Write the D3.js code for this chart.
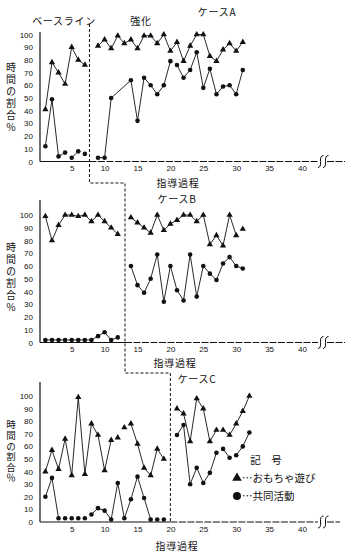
<!DOCTYPE html>
<html>
<head>
<meta charset="utf-8">
<title>ケースA・B・C</title>
<script src="https://d3js.org/d3.v7.min.js"></script>
<style>
  body { margin: 0; background: #fff; }
  text { fill: #111; }
</style>
</head>
<body>
<script>
// --- data ---
var xTicks = [5, 10, 15, 20, 25, 30, 35, 40];
var yTicks = [0, 10, 20, 30, 40, 50, 60, 70, 80, 90, 100];

// case A
var sessABase = [1, 2, 3, 4, 5, 6, 7];
var toyABase = [41, 78, 70, 61, 90, 80, 76];
var jointABase = [12, 49, 4, 7, 3, 8, 6];
var sessAToy = [9, 10, 11, 12, 13, 14, 15, 16, 17, 18, 19, 20, 21, 22, 23, 24, 25, 26, 27, 28, 29, 30, 31];
var toyATreat = [91, 96, 89, 99, 93, 96, 89, 99, 99, 93, 100, 87, 94, 79, 91, 100, 100, 83, 79, 88, 93, 87, 94];
var sessAJoint = [9, 10, 11, 14, 15, 16, 17, 18, 19, 20, 21, 22, 23, 24, 25, 26, 27, 28, 29, 30, 31];
var jointATreat = [3, 3, 50, 64, 32, 66, 60, 53, 60, 79, 76, 66, 72, 86, 58, 73, 53, 59, 60, 53, 72];

// case B
var sessBBase = [1, 2, 3, 4, 5, 6, 7, 8, 9, 10, 11, 12];
var toyBBase = [99, 80, 92, 100, 100, 99, 100, 95, 100, 95, 90, 85];
var jointBBase = [2, 2, 2, 2, 2, 2, 2, 2, 5, 8, 2, 4];
var sessBTreat = [14, 15, 16, 17, 18, 19, 20, 21, 22, 23, 24, 25, 26, 27, 28, 29, 30, 31];
var toyBTreat = [98, 94, 90, 86, 100, 88, 93, 96, 100, 100, 95, 100, 77, 84, 76, 100, 84, 89];
var jointBTreat = [60, 45, 39, 50, 69, 32, 60, 41, 33, 69, 36, 60, 54, 49, 62, 67, 60, 58];

// case C
var sessCBase = [1, 2, 3, 4, 5, 6, 7, 8, 9, 10, 11, 12, 13, 14, 15, 16, 17, 18, 19];
var toyCBase = [40, 57, 42, 66, 37, 99, 38, 78, 69, 41, 65, 67, 75, 78, 62, 43, 37, 58, 50];
var jointCBase = [20, 35, 3, 3, 3, 3, 3, 6, 11, 9, 2, 31, 3, 18, 36, 19, 2, 2, 2];
var sessCTreat = [21, 22, 23, 24, 25, 26, 27, 28, 29, 30, 31, 32];
var toyCTreat = [90, 86, 64, 98, 90, 64, 73, 73, 69, 78, 88, 100];
var jointCTreat = [69, 77, 30, 43, 31, 39, 55, 58, 51, 53, 60, 71];

// sessions after which the drawn line is interrupted
var jointABaseBreaks = [4, 6];
var jointATreatBreaks = [20];
var toyBTreatBreaks = [30];
var toyCBaseBreaks = [11, 12, 13];
var jointCBaseBreaks = [3, 4, 5, 6, 7, 17, 18];
var toyCTreatBreaks = [27];
var jointCTreatBreaks = [27, 29];

// phase change (between sessions)
var phaseA = 7.7, phaseB = 13.1, phaseC = 20;

var jpFont = "'Noto Sans CJK JP', sans-serif";
var numFont = "'Liberation Sans', Arial, sans-serif";

var svg = d3.select("body").append("svg")
  .attr("width", 352).attr("height", 555)
  .style("display", "block");

var x = d3.scaleLinear().domain([0, 40]).range([38.8, 302]);
var axisX = 40;

var panels = [
  { y: d3.scaleLinear().domain([0, 100]).range([161.5, 34.5]), top: 32, end: 345, phase: phaseA,
    labelY: 62, labelSize: 10, labelGap: 2,
    series: [
      [sessABase, toyABase, [], "tri"], [sessABase, jointABase, jointABaseBreaks, "dot"],
      [sessAToy, toyATreat, [], "tri"], [sessAJoint, jointATreat, jointATreatBreaks, "dot"]
    ] },
  { y: d3.scaleLinear().domain([0, 100]).range([342.5, 215]), top: 200, end: 345, phase: phaseB,
    labelY: 242, labelSize: 10, labelGap: 2,
    series: [
      [sessBBase, toyBBase, [], "tri"], [sessBBase, jointBBase, [], "dot"],
      [sessBTreat, toyBTreat, toyBTreatBreaks, "tri"], [sessBTreat, jointBTreat, [], "dot"]
    ] },
  { y: d3.scaleLinear().domain([0, 100]).range([522, 396]), top: 382, end: 340, phase: phaseC,
    labelY: 420, labelSize: 9.5, labelGap: 1.1,
    series: [
      [sessCBase, toyCBase, toyCBaseBreaks, "tri"], [sessCBase, jointCBase, jointCBaseBreaks, "dot"],
      [sessCTreat, toyCTreat, toyCTreatBreaks, "tri"], [sessCTreat, jointCTreat, jointCTreatBreaks, "dot"]
    ] }
];

var tri = d3.symbol().type(d3.symbolTriangle).size(17);

panels.forEach(function(p) {
  var g = svg.append("g");
  var y0 = p.y(0);

  // y axis
  g.append("line").attr("x1", axisX).attr("x2", axisX).attr("y1", y0).attr("y2", p.top)
    .attr("stroke", "#111").attr("stroke-width", 1.2);
  var ya = g.append("g").attr("transform", "translate(" + axisX + ",0)")
    .call(d3.axisLeft(p.y).tickValues(yTicks).tickSize(0).tickPadding(7));
  ya.select(".domain").remove();
  ya.selectAll("text").attr("font-family", numFont).attr("font-size", 8).attr("fill", "#111");

  // x axis: solid through baseline, broken dashes after
  var xp = x(p.phase);
  g.append("line").attr("x1", axisX).attr("x2", xp).attr("y1", y0).attr("y2", y0)
    .attr("stroke", "#111").attr("stroke-width", 1.2);
  g.append("line").attr("x1", xp).attr("x2", 318).attr("y1", y0).attr("y2", y0)
    .attr("stroke", "#111").attr("stroke-width", 1).attr("stroke-dasharray", "7,1.5");
  g.append("line").attr("x1", 327).attr("x2", p.end).attr("y1", y0).attr("y2", y0)
    .attr("stroke", "#111").attr("stroke-width", 1).attr("stroke-dasharray", "7,1.5");
  var xa = g.append("g").attr("transform", "translate(0," + y0 + ")")
    .call(d3.axisBottom(x).tickValues(xTicks).tickSize(0).tickPadding(4));
  xa.select(".domain").remove();
  xa.selectAll("text").attr("font-family", numFont).attr("font-size", 8).attr("fill", "#111");

  // axis break mark
  [0, 5].forEach(function(dx) {
    g.append("path")
      .attr("d", "M" + (318 + dx) + "," + (y0 + 6) + " q3,0 2.5,-6 t3,-6")
      .attr("fill", "none").attr("stroke", "#111").attr("stroke-width", 1);
  });

  // y label, written vertically
  g.append("text").attr("x", 11).attr("y", p.labelY)
    .style("writing-mode", "vertical-rl").style("text-orientation", "upright")
    .attr("font-family", jpFont).attr("font-size", p.labelSize)
    .attr("letter-spacing", p.labelGap)
    .text("時間の割合％");

  // series
  var line = d3.line().x(function(d) { return x(d.s); }).y(function(d) { return p.y(d.v); });
  p.series.forEach(function(sr) {
    var pts = sr[0].map(function(s, i) { return { s: s, v: sr[1][i] }; });
    var segs = [[]];
    pts.forEach(function(d) {
      segs[segs.length - 1].push(d);
      if (sr[2].indexOf(d.s) >= 0) segs.push([]);
    });
    g.selectAll(null).data(segs.filter(function(s) { return s.length > 1; }))
      .enter().append("path")
      .attr("d", line).attr("fill", "none").attr("stroke", "#111").attr("stroke-width", 0.9);
    if (sr[3] === "tri") {
      g.selectAll(null).data(pts).enter().append("path")
        .attr("d", tri)
        .attr("transform", function(d) { return "translate(" + x(d.s) + "," + p.y(d.v) + ")"; })
        .attr("fill", "#111");
    } else {
      g.selectAll(null).data(pts).enter().append("circle")
        .attr("cx", function(d) { return x(d.s); })
        .attr("cy", function(d) { return p.y(d.v); })
        .attr("r", 2.3).attr("fill", "#111");
    }
  });
});

// phase change line, stepping down through the three cases
var stepPts = [
  [x(phaseA), 24], [x(phaseA), 183], [x(phaseB), 183],
  [x(phaseB), 373], [x(phaseC), 373], [x(phaseC), 523]
];
svg.append("path").attr("d", d3.line()(stepPts))
  .attr("fill", "none").attr("stroke", "#111").attr("stroke-width", 1)
  .attr("stroke-dasharray", "3,2");

// labels
var labels = [
  ["ベースライン", 64, 25], ["強化", 141, 25], ["ケースA", 217, 16],
  ["指導過程", 178, 187], ["ケースB", 177, 202.5],
  ["指導過程", 175, 367], ["ケースC", 197, 383],
  ["指導過程", 177, 550]
];
svg.selectAll(null).data(labels).enter().append("text")
  .attr("x", function(d) { return d[1]; }).attr("y", function(d) { return d[2]; })
  .attr("text-anchor", "middle").attr("font-family", jpFont).attr("font-size", 10)
  .attr("letter-spacing", 0.7)
  .text(function(d) { return d[0]; });

// legend
var lg = svg.append("g");
lg.append("text").attr("x", 266).attr("y", 464).attr("text-anchor", "middle")
  .attr("font-family", jpFont).attr("font-size", 10.5).text("記　号");
lg.append("path").attr("d", d3.symbol().type(d3.symbolTriangle).size(40)())
  .attr("transform", "translate(237,478)").attr("fill", "#111");
lg.append("text").attr("x", 242).attr("y", 482)
  .attr("font-family", jpFont).attr("font-size", 10.5).text("…おもちゃ遊び");
lg.append("circle").attr("cx", 237).attr("cy", 496).attr("r", 4).attr("fill", "#111");
lg.append("text").attr("x", 242).attr("y", 500)
  .attr("font-family", jpFont).attr("font-size", 10.5).text("…共同活動");
</script>
</body>
</html>
